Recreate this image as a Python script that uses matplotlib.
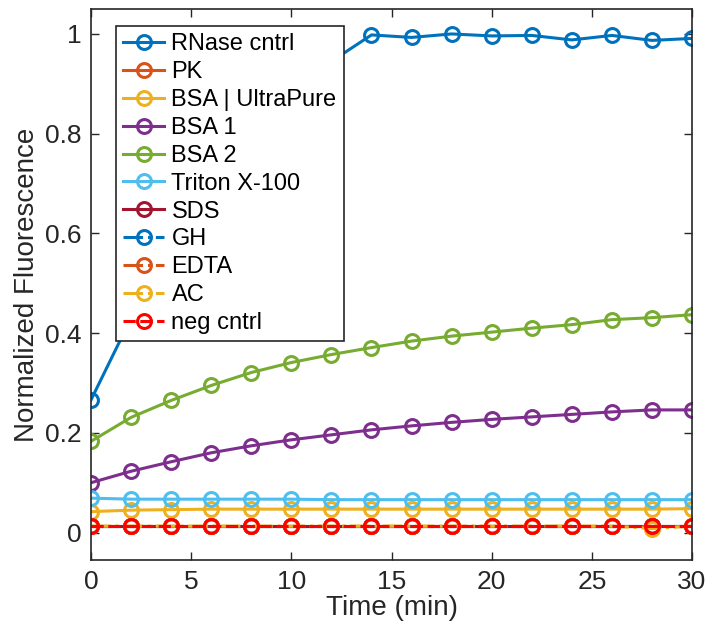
import matplotlib
matplotlib.use("Agg")
import matplotlib.pyplot as plt

plt.rcParams['font.family'] = ['Liberation Sans', 'DejaVu Sans']

time_min = [0, 2, 4, 6, 8, 10, 12, 14, 16, 18, 20, 22, 24, 26, 28, 30]

rnase = [0.266, 0.43, 0.58, 0.70, 0.80, 0.88, 0.945, 0.998, 0.993, 1.0, 0.996, 0.997, 0.988, 0.997, 0.987, 0.991]
pk = [0.013] * 16
bsa_ultra = [0.042, 0.045, 0.046, 0.047, 0.047, 0.047, 0.047, 0.047, 0.047, 0.047, 0.047, 0.047, 0.047, 0.047, 0.047, 0.048]
bsa1 = [0.100, 0.123, 0.142, 0.160, 0.174, 0.186, 0.196, 0.206, 0.214, 0.221, 0.227, 0.232, 0.237, 0.242, 0.246, 0.246]
bsa2 = [0.183, 0.231, 0.265, 0.295, 0.321, 0.341, 0.357, 0.371, 0.384, 0.394, 0.402, 0.410, 0.417, 0.427, 0.431, 0.437]
triton = [0.069, 0.067, 0.067, 0.067, 0.067, 0.067, 0.066, 0.066, 0.066, 0.066, 0.066, 0.066, 0.066, 0.066, 0.066, 0.066]
sds = [0.013] * 16
gh = [0.013] * 16
edta = [0.013] * 16
ac = [0.013, 0.013, 0.013, 0.013, 0.013, 0.013, 0.013, 0.013, 0.013, 0.013, 0.013, 0.013, 0.013, 0.013, 0.008, 0.013]
neg = [0.014] * 16

series = [
    ("RNase cntrl", rnase, '#0072BD', '-'),
    ("PK", pk, '#D95319', '-'),
    ("BSA | UltraPure", bsa_ultra, '#EDB120', '-'),
    ("BSA 1", bsa1, '#7E2F8E', '-'),
    ("BSA 2", bsa2, '#77AC30', '-'),
    ("Triton X-100", triton, '#4DBEEE', '-'),
    ("SDS", sds, '#A2142F', '-'),
    ("GH", gh, '#0072BD', '-.'),
    ("EDTA", edta, '#D95319', '-.'),
    ("AC", ac, '#EDB120', '-.'),
    ("neg cntrl", neg, '#FF0000', '--'),
]

axis_col = '#262626'

fig = plt.figure(figsize=(7.08, 6.32), dpi=100)
ax = fig.add_axes([91 / 708, 1 - 560 / 632, 601 / 708, 551 / 632])

for name, vals, col, ls in series:
    line, = ax.plot(time_min, vals, linestyle=ls, color=col, linewidth=2.2, marker='o',
                    markersize=10, markerfacecolor='none', markeredgewidth=2.2, label=name)
    if ls == '--':
        line.set_dashes([4, 1.5])

ax.set_xlim(0, 30)
ax.set_ylim(-0.055, 1.05)
ax.set_xticks([0, 5, 10, 15, 20, 25, 30])
ax.set_yticks([0, 0.2, 0.4, 0.6, 0.8, 1])
ax.set_yticklabels(['0', '0.2', '0.4', '0.6', '0.8', '1'])
ax.tick_params(direction='in', length=6, width=1, top=True, right=True, labelsize=19, pad=7,
               colors=axis_col)
for sp in ax.spines.values():
    sp.set_linewidth(1.2)
    sp.set_color(axis_col)

ax.set_xlabel('Time (min)', fontsize=20, labelpad=1, color=axis_col)
ax.set_ylabel('Normalized Fluorescence', fontsize=20, labelpad=3, color=axis_col)

leg = ax.legend(loc='upper left', bbox_to_anchor=(0.0416, 0.969), fontsize=17, handlelength=1.75,
                handletextpad=0.3, labelspacing=0.25, borderpad=0.3, borderaxespad=0,
                fancybox=False, framealpha=1)
leg.get_frame().set_edgecolor(axis_col)
leg.get_frame().set_linewidth(1.2)

plt.savefig('out.png', dpi=100)
